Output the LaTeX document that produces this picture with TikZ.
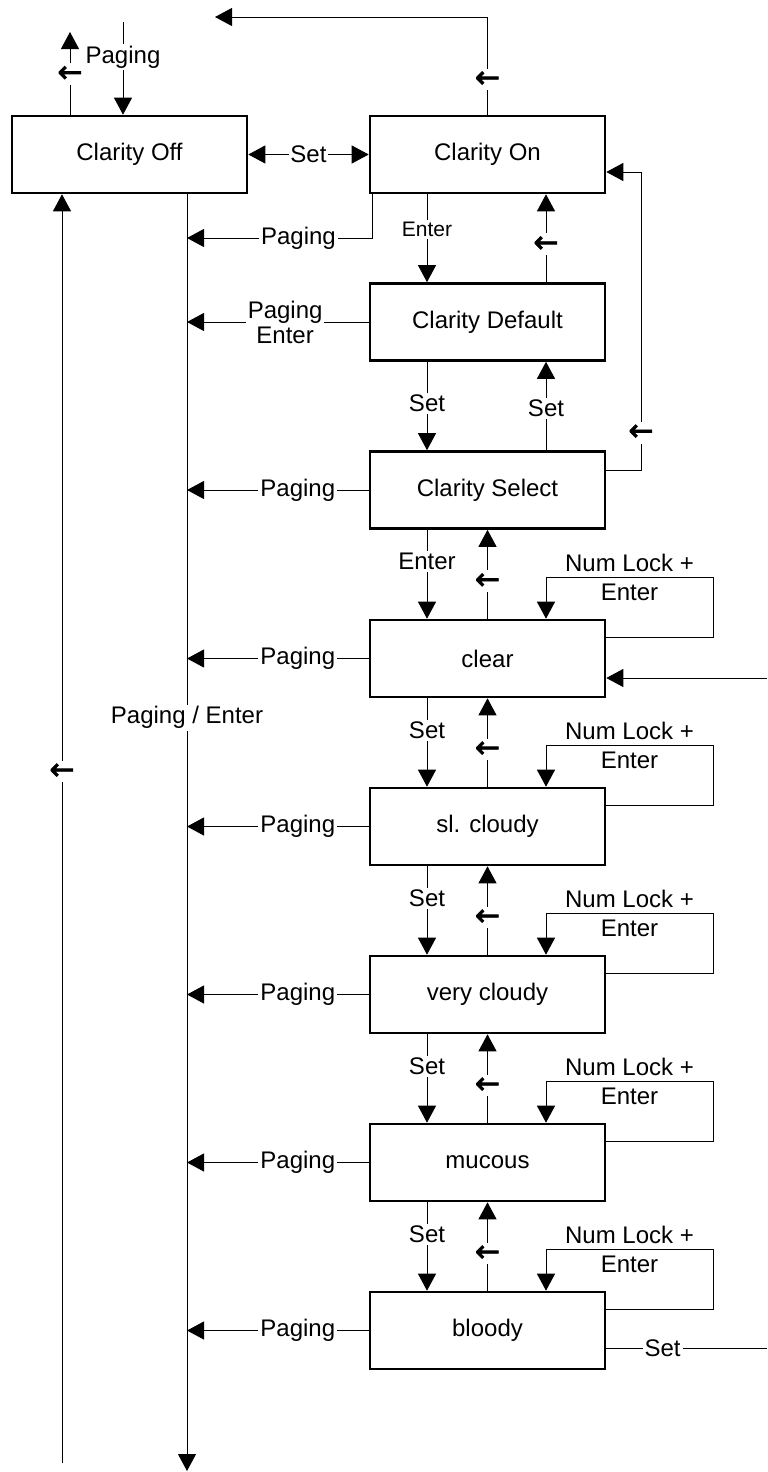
\documentclass[tikz,border=0pt]{standalone}
\usepackage{fontspec}
\setmainfont{Liberation Sans}
\newfontfamily\symfont[FakeBold=2.5]{DejaVu Sans}
\usetikzlibrary{arrows.meta,calc}
\begin{document}
\begin{tikzpicture}[x=0.5pt,y=-0.5pt,
  box/.style={draw,line width=1.3pt,minimum width=117.5pt,minimum height=38.5pt,inner sep=0pt,font=\fontsize{12}{14.4}\selectfont},
  con/.style={line width=0.5pt},
  arr/.style={con,-{Triangle[length=8.5pt,width=9pt]}},
  arrb/.style={con,{Triangle[length=8.5pt,width=9pt]}-{Triangle[length=8.5pt,width=9pt]}},
  lbl/.style={fill=white,inner sep=1pt,font=\fontsize{12}{14.4}\selectfont},
  sml/.style={fill=white,inner sep=1pt,font=\fontsize{10.5}{12}\selectfont},
  la/.style={fill=white,inner xsep=0pt,inner ysep=1.5pt,font=\symfont\fontsize{15}{15}\selectfont},
  two/.style={align=center,inner sep=0pt,font=\fontsize{12}{14.5}\selectfont}]
\useasboundingbox (0,0) rectangle (767,1472);

% boxes
\node[box] (off) at (129.5,154.5) {Clarity Off};
\node[box] (on)  at (487.5,154.5) {Clarity On};
\node[box] (def) at (487.5,322) {Clarity Default};
\node[box] (sel) at (487.5,490) {Clarity Select};
\node[box] (clr) at (487.5,658.5) {clear};
\node[box] (slc) at (487.5,826.5) {sl. cloudy};
\node[box] (vcl) at (487.5,994.5) {very cloudy};
\node[box] (muc) at (487.5,1162.5) {mucous};
\node[box] (bld) at (487.5,1330.5) {bloody};

% helper coordinates
\coordinate (cL) at (427,0);
\coordinate (cR) at (546,0);
\coordinate (bus) at (187,0);
\coordinate (lb) at (62,0);
\coordinate (lpx) at (713,0);
\coordinate (rlx) at (641,0);
\coordinate (busEnd) at (187,1471);
\coordinate (lbStart) at (62,1463);
\coordinate (offUp) at (70,32);
\coordinate (pgTop) at (123,22);
\coordinate (topL) at (215,17);
\coordinate (pgOn) at (187,238);
\coordinate (inR) at (767,678);
\coordinate (setR) at (767,1348);
\coordinate (onIn) at ($(on.east)+(0,17.5)$);

% left verticals
\draw[arr] (off.south -| bus) -- node[lbl,pos=0.41]{Paging / Enter} (busEnd);
\draw[arr] (lbStart) -- node[la,pos=0.545]{←} (off.south -| lb);

% top
\draw[arr] (off.north -| offUp) -- node[la,pos=0.49]{←} (offUp);
\draw[arr] (pgTop) -- node[lbl,pos=0.38]{Paging} (off.north -| pgTop);
\draw[arr] (on.north) -- node[la,pos=0.36]{←} (on.north |- topL) -- (topL);

% Set between Off and On
\draw[arrb] (off.east) -- node[lbl,inner xsep=0.5pt]{Set} (on.west);

% Paging lines
\draw[arr] ($(on.south west)+(4,0)$) |- node[lbl,pos=0.70]{Paging} (pgOn);
\draw[arr] (def.west) -- node[lbl,pos=0.46,align=center,font=\fontsize{12}{12.5}\selectfont]{Paging\\Enter} (def.west -| bus);
\foreach \n in {sel,clr,slc,vcl,muc,bld}
  \draw[arr] (\n.west) -- node[lbl,pos=0.39]{Paging} (\n.west -| bus);

% On / Default / Select
\draw[arr] (on.south -| cL) -- node[sml,pos=0.4]{Enter} (def.north -| cL);
\draw[arr] (def.north -| cR) -- node[la,pos=0.43]{←} (on.south -| cR);
\draw[arr] (def.south -| cL) -- node[lbl,pos=0.47]{Set} (sel.north -| cL);
\draw[arr] (sel.north -| cR) -- node[lbl,pos=0.47]{Set} (def.south -| cR);
\draw[arr] ($(sel.north east)+(0,20)$) -| node[la,pos=0.563]{←} (onIn -| rlx) -- (onIn);

% Select / clear
\draw[arr] (sel.south -| cL) -- node[lbl,pos=0.36]{Enter} (clr.north -| cL);
\draw[arr] (clr.north) -- node[la,pos=0.42]{←} (sel.south);

% chain
\foreach \a/\b in {clr/slc,slc/vcl,vcl/muc,muc/bld}{
  \draw[arr] (\a.south -| cL) -- node[lbl,pos=0.36]{Set} (\b.north -| cL);
  \draw[arr] (\b.north) -- node[la,pos=0.42]{←} (\a.south);
}

% self loops
\foreach \n in {clr,slc,vcl,muc,bld}
  \draw[arr] ($(\n.north east)+(0,19)$) -| ($(\n.north -| lpx)+(0,-41)$)
     -- node[two]{Num Lock +\\Enter} ($(\n.north -| cR)+(0,-41)$) -- (\n.north -| cR);

% right edge connections
\draw[arr] (inR) -- (inR -| clr.east);
\draw[con] ($(bld.east)+(0,17.5)$) -- node[lbl,pos=0.35]{Set} (setR);
\end{tikzpicture}
\end{document}
